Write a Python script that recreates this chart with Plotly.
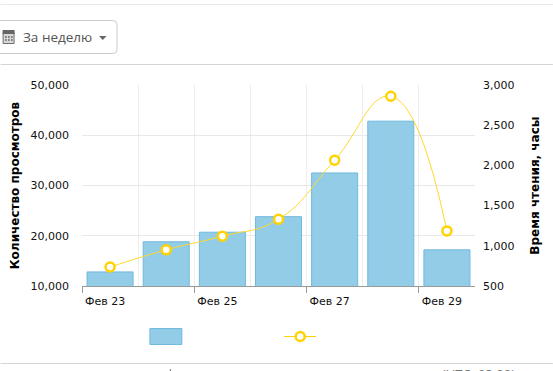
import plotly.graph_objects as go

W, H = 553, 371
L, R, T, B = 81.5, 475, 85, 286

days = ["Фев 23", "Фев 24", "Фев 25", "Фев 26", "Фев 27", "Фев 28", "Фев 29"]
views = [12800, 18800, 20700, 23800, 32500, 42800, 17200]
read_hours = [736, 950, 1120, 1330, 2065, 2860, 1185]
left_ticks = [10000, 20000, 30000, 40000, 50000]
right_ticks = [500, 1000, 1500, 2000, 2500, 3000]
label_days = [0, 2, 4, 6]
tick_edges = [-0.5, 1.5, 3.5, 5.5]
grid_edges = [-0.5, 0.5, 1.5, 2.5, 3.5, 4.5, 5.5, 6.5]
idx = list(range(len(days)))

BAR = "#93CCE7"
BAR_EDGE = "#70B9DF"
LINE = "#FFD92B"
MARK = "#FFD200"
FONT = "DejaVu Sans"

def px(x): return (x - L) / (R - L)
def py(y): return (B - y) / (B - T)

fig = go.Figure()
fig.add_bar(x=idx, y=views, width=0.82, xaxis="x", yaxis="y",
            marker=dict(color=BAR, line=dict(color=BAR_EDGE, width=1)), showlegend=False)
fig.add_scatter(x=idx, y=read_hours, xaxis="x2", yaxis="y2", mode="lines+markers",
                line=dict(color=LINE, width=1, shape="spline", smoothing=1.3),
                marker=dict(size=9, color="white", line=dict(color=MARK, width=2.5)),
                showlegend=False)

shapes = []
def rect(x0, y0, x1, y1, **kw):
    shapes.append(dict(type="rect", xref="paper", yref="paper", x0=px(x0), x1=px(x1),
                       y0=py(y0), y1=py(y1), **kw))
def hline(y, color, x0=0, x1=W, width=1, layer="below"):
    shapes.append(dict(type="line", xref="paper", yref="paper", x0=px(x0), x1=px(x1),
                       y0=py(y), y1=py(y), line=dict(color=color, width=width), layer=layer))

hline(4.5, "#E6E9EC")
hline(64.5, "#D5D5D5")
hline(363.5, "#D5D5D5")

# date-range button
x0, x1, y0, y1 = px(-6), px(116.5), py(20.5), py(53.5)
r = 4 / (R - L); ry = 4 / (B - T)
shapes.append(dict(type="path", xref="paper", yref="paper",
    path=f"M {x0} {y0} L {x1-r} {y0} Q {x1} {y0} {x1} {y0-ry} L {x1} {y1+ry} "
         f"Q {x1} {y1} {x1-r} {y1} L {x0} {y1} Z",
    line=dict(color="#CCCCCC", width=1), fillcolor="white"))
# calendar icon
rect(2.5, 32.5, 13.5, 43.5, line=dict(color="#6E6E6E", width=1), fillcolor="#D8D8D8")
rect(2, 30, 14, 34, line=dict(width=0), fillcolor="#666666")
for gx in (5, 8, 11):
    for gy in (36, 39):
        rect(gx - 0.5, gy, gx + 1, gy + 2, line=dict(width=0), fillcolor="#777777")
# caret
cx0, cx1, cxm = px(98.5), px(106), px(102.25)
cy0, cy1 = py(36), py(40)
shapes.append(dict(type="path", xref="paper", yref="paper",
                   path=f"M {cx0} {cy0} L {cx1} {cy0} L {cxm} {cy1} Z",
                   fillcolor="#666666", line=dict(width=0)))
# legend swatches (the source legend has no visible labels)
rect(149.5, 328.5, 181.5, 344.5, fillcolor=BAR, line=dict(color=BAR_EDGE, width=1))
hline(336.5, MARK, 284, 316, 1, "above")
cr = 4.5
shapes.append(dict(type="circle", xref="paper", yref="paper",
                   x0=px(300 - cr), x1=px(300 + cr), y0=py(336.5 - cr), y1=py(336.5 + cr),
                   fillcolor="white", line=dict(color=MARK, width=2.5), layer="above"))
# sliver of a cut-off glyph at the bottom edge
rect(169.5, 369, 170.5, 371, fillcolor="#777777", line=dict(width=0))

fig.update_layout(
    width=W, height=H, margin=dict(l=L, r=W - R, t=T, b=H - B),
    paper_bgcolor="white", plot_bgcolor="white", showlegend=False, bargap=0.18,
    font=dict(family=FONT, size=11, color="#111111"), shapes=shapes,
    xaxis=dict(range=[-0.5, 6.5], tickmode="array", tickvals=tick_edges, ticktext=["", "", "", ""],
               ticks="outside", ticklen=6, tickcolor="#999999", showgrid=False, zeroline=False,
               showline=True, linecolor="#999999", automargin=False,
               minor=dict(tickmode="array", tickvals=grid_edges, showgrid=True,
                          gridcolor="#EEEEEE", gridwidth=1, ticks="")),
    yaxis=dict(range=[10000, 50000], tickmode="array", tickvals=left_ticks, tickformat=",d",
               gridcolor="#E8E8E8", zeroline=False, ticks="", showline=False,
               ticklabelstandoff=12, automargin=False,
               title=dict(text="<b>Количество просмотров</b>", font=dict(size=12, color="#000000"), standoff=8)),
    xaxis2=dict(range=[-0.5, 6.5], overlaying="x", anchor="y", side="bottom",
                tickmode="array", tickvals=label_days, ticktext=[days[i] for i in label_days],
                ticks="", showgrid=False, zeroline=False, showline=False, automargin=False,
                ticklabelstandoff=7, ticklabelshift=-5, tickfont=dict(size=11)),
    yaxis2=dict(range=[500, 3000], overlaying="y", side="right", anchor="x", tickmode="array",
                tickvals=right_ticks, tickformat=",d", showgrid=False, zeroline=False, ticks="",
                ticklabelstandoff=7, automargin=False,
                title=dict(text="<b>Время чтения, часы</b>", font=dict(size=12, color="#000000"), standoff=17)),
    annotations=[
        dict(text="За неделю", xref="paper", yref="paper", x=px(20), y=py(37), xanchor="left",
             yanchor="middle", showarrow=False, font=dict(family="Open Sans", size=13.5, color="#555555")),
        dict(text="(UTC+03:00)", xref="paper", yref="paper", x=px(440), y=py(369), xanchor="left",
             yanchor="top", showarrow=False, yshift=6,
             font=dict(family="Open Sans", size=13, color="#777777")),
    ],
)

fig.write_html("out.html", config=dict(displayModeBar=False),
               post_script="document.body.style.margin='0';")
